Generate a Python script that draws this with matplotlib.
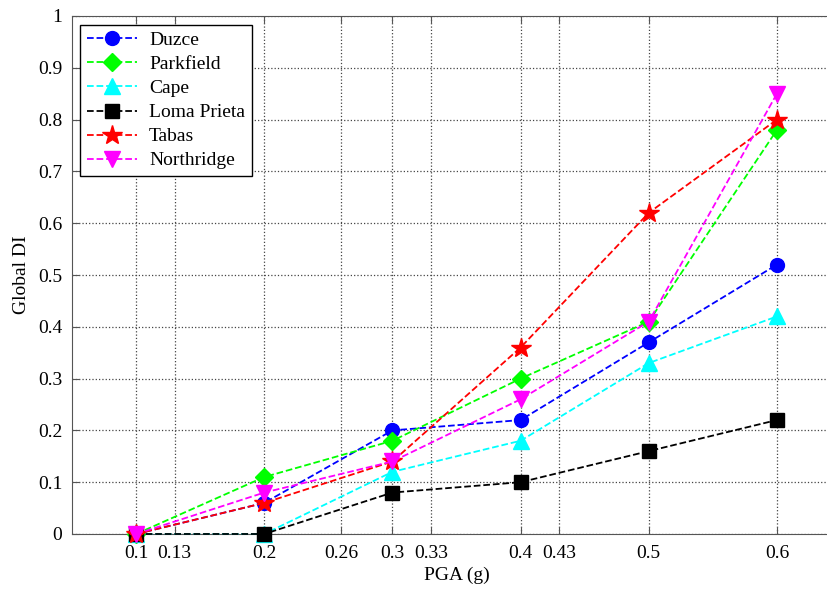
from matplotlib import pyplot as plt
import numpy as np

pga = [0.1, 0.2, 0.3, 0.4, 0.5, 0.6]
duzce = [0.0, 0.06, 0.20, 0.22, 0.37, 0.52]
parkfield = [0.0, 0.11, 0.18, 0.30, 0.41, 0.78]
cape = [0.0, 0.0, 0.12, 0.18, 0.33, 0.42]
loma_prieta = [0.0, 0.0, 0.08, 0.10, 0.16, 0.22]
tabas = [0.0, 0.06, 0.14, 0.36, 0.62, 0.80]
northridge = [0.0, 0.08, 0.14, 0.26, 0.41, 0.85]

xticks = [0.1, 0.13, 0.2, 0.26, 0.3, 0.33, 0.4, 0.43, 0.5, 0.6]
xtick_labels = ["0.1", "0.13", "0.2", "0.26", "0.3", "0.33", "0.4", "0.43", "0.5", "0.6"]
yticks = [0, 0.1, 0.2, 0.3, 0.4, 0.5, 0.6, 0.7, 0.8, 0.9, 1]
ytick_labels = ["0", "0.1", "0.2", "0.3", "0.4", "0.5", "0.6", "0.7", "0.8", "0.9", "1"]

plt.rcParams['font.family'] = ['Liberation Serif', 'DejaVu Serif']

fig = plt.figure(figsize=(8.27, 5.90), dpi=100)
# right edge of the axes lies beyond the picture, as in the reference
ax = fig.add_axes([72 / 827, 56 / 590, (841 - 72) / 827, (534 - 16) / 590])

series = [
    (duzce, "Duzce", "b", "o", 10),
    (parkfield, "Parkfield", "#00ff00", "D", 9),
    (cape, "Cape", "cyan", "^", 11),
    (loma_prieta, "Loma Prieta", "k", "s", 10),
    (tabas, "Tabas", "r", "*", 15),
    (northridge, "Northridge", "magenta", "v", 11),
]
for vals, name, col, mk, ms in series:
    ax.plot(pga, vals, linestyle="--", color=col, marker=mk, markersize=ms,
            linewidth=1.3, label=name, clip_on=False, zorder=3)

ax.set_xlim(0.05, 0.65)
ax.set_ylim(0, 1)
ax.set_xticks(xticks)
ax.set_xticklabels(xtick_labels)
ax.set_yticks(yticks)
ax.set_yticklabels(ytick_labels)
ax.tick_params(labelsize=14, direction="in", length=5, color="#555555", top=True)
ax.tick_params(axis="x", pad=8)
ax.tick_params(axis="y", pad=7)
ax.grid(True, linestyle=":", color="#444444", linewidth=0.9)
for s in ax.spines.values():
    s.set_color("#555555")
ax.set_xlabel("PGA (g)", fontsize=14, labelpad=3)
ax.set_ylabel("Global DI", fontsize=14, labelpad=6)

leg = ax.legend(loc="upper left", fontsize=14, fancybox=False, edgecolor="k",
                framealpha=1, borderpad=0.35, labelspacing=0.33, handlelength=2.6,
                handletextpad=0.6, borderaxespad=0, bbox_to_anchor=(0.0104, 0.983))
leg.get_frame().set_linewidth(1.0)

plt.savefig("out.png", dpi=100)
